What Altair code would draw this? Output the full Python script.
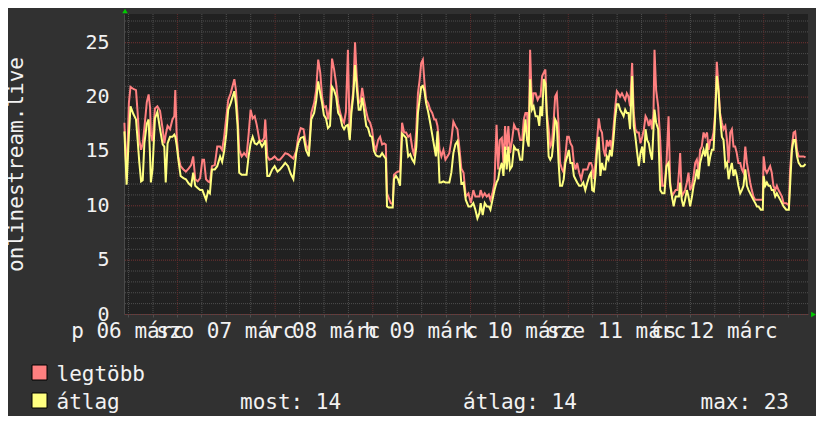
import altair as alt
import pandas as pd

# hours since the start of the graph (06 márc ~11:00)
hours = [
    0.1, 0.65, 1.2, 1.6, 2.3, 2.95, 3.35, 3.75, 4.2, 4.6,
    5.0, 5.6, 6.05, 6.4, 6.6, 7.0, 7.6, 8.2, 8.85, 9.5,
    9.9, 10.25, 10.7, 11.3, 11.9, 12.35, 12.6, 12.95, 13.35, 13.9,
    14.6, 15.2, 15.9, 16.5, 17.0, 17.5, 18.1, 18.7, 19.25, 19.65,
    20.15, 20.65, 21.1, 21.6, 22.3, 22.9, 23.6, 24.1, 24.6, 25.1,
    25.6, 26.2, 27.1, 27.5, 27.9, 28.3, 28.9, 29.5, 30.1, 30.6,
    31.1, 31.6, 32.1, 32.6, 33.25, 33.9, 34.4, 34.7, 35.2, 35.7,
    36.4, 37.0, 37.7, 38.3, 39.0, 39.6, 40.3, 40.95, 41.6, 42.3,
    42.8, 43.4, 44.1, 44.7, 45.4, 46.0, 46.7, 47.2, 47.7, 48.2,
    48.65, 49.1, 49.6, 50.1, 50.6, 51.1, 51.6, 52.1, 52.6, 53.1,
    53.6, 54.05, 54.5, 55.0, 55.45, 55.85, 56.3, 56.75, 57.15, 57.65,
    58.1, 58.5, 58.95, 59.5, 59.95, 60.45, 60.9, 61.4, 61.9, 62.4,
    62.9, 63.4, 63.9, 64.3, 64.6, 65.0, 65.5, 66.0, 66.3, 66.8,
    67.3, 67.8, 68.3, 68.8, 69.3, 69.8, 70.3, 70.8, 71.3, 71.8,
    72.2, 72.6, 73.0, 73.4, 73.8, 74.2, 74.7, 75.2, 75.7, 76.2,
    76.6, 77.0, 77.5, 77.95, 78.45, 78.95, 79.45, 79.9, 80.4, 80.9,
    81.4, 81.9, 82.35, 82.85, 83.4, 83.95, 84.6, 85.2, 85.8, 86.3,
    86.8, 87.3, 87.6, 88.1, 88.6, 89.1, 89.6, 90.0, 90.5, 91.0,
    91.5, 91.9, 92.3, 92.8, 93.2, 93.6, 94.0, 94.4, 94.8, 95.3,
    95.8, 96.3, 96.8, 97.3, 97.8, 98.2, 98.6, 99.0, 99.4, 99.75,
    100.2, 100.6, 101.1, 101.6, 102.0, 102.3, 102.7, 103.1, 103.5, 103.85,
    104.3, 104.7, 105.1, 105.5, 105.9, 106.3, 106.7, 107.1, 107.6, 108.0,
    108.4, 108.85, 109.25, 109.65, 110.1, 110.5, 110.9, 111.3, 111.8, 112.3,
    112.8, 113.3, 113.8, 114.3, 114.7, 115.0, 115.4, 115.8, 116.2, 116.6,
    117.0, 117.4, 117.8, 118.2, 118.6, 119.0, 119.4, 119.8, 120.2, 120.6,
    121.05, 121.45, 121.85, 122.3, 122.7, 123.1, 123.5, 123.9, 124.3, 124.8,
    125.2, 125.6, 126.05, 126.45, 126.85, 127.3, 127.7, 128.1, 128.5, 128.9,
    129.3, 129.7, 130.05, 130.3, 130.7, 131.2, 131.7, 132.2, 132.75, 133.25,
    133.75, 134.15, 134.6, 135.0, 135.5, 135.95, 136.3, 136.6, 137.0, 137.4,
    137.8, 138.25, 138.65, 139.05, 139.5, 139.9, 140.3, 140.7, 141.1, 141.5,
    141.9, 142.35, 142.75, 143.2, 143.6, 144.0, 144.4, 144.8, 145.2, 145.6,
    146.0, 146.4, 146.85, 147.25, 147.7, 148.1, 148.5, 148.9, 149.3, 149.7,
    150.1, 150.5, 150.9, 151.35, 151.75, 152.15, 152.6, 153.0, 153.4, 153.8,
    154.2, 154.6, 155.05, 155.45, 155.85, 156.4, 156.9, 157.1, 157.5, 157.9,
    158.3, 158.7, 159.1, 159.5, 159.95, 160.35, 160.75, 161.2, 161.6, 162.0,
    162.65, 163.3, 163.6, 164.05, 164.45, 164.85, 165.3, 165.7, 166.25, 166.9,
    167.4,
]

legtobb = [
    17.6, 12.4, 19.4, 20.9, 20.7, 20.6, 18.5, 16.0, 15.1, 15.7,
    17.1, 19.5, 20.2, 19.0, 16.5, 15.9, 18.9, 19.1, 18.7, 17.0,
    15.7, 16.5, 17.3, 17.0, 17.9, 18.2, 20.6, 16.3, 14.5, 13.6,
    13.3, 13.1, 13.4, 13.7, 14.5, 12.4, 12.2, 12.5, 14.2, 14.2,
    12.4, 12.2, 12.1, 13.6, 13.7, 15.4, 15.4, 15.1, 16.3, 18.0,
    19.7, 20.3, 21.6, 20.6, 18.2, 15.1, 14.5, 14.8, 14.5, 16.5,
    18.8, 18.0, 18.2, 17.4, 16.0, 15.9, 16.2, 17.9, 14.5, 14.2,
    14.3, 14.5, 14.2, 14.2, 14.5, 14.8, 14.7, 14.5, 14.3, 15.0,
    16.3, 17.1, 17.0, 15.6, 15.0, 18.5, 19.4, 20.6, 23.4, 22.2,
    20.0, 19.0, 19.1, 17.9, 19.0, 23.5, 22.5, 21.2, 19.4, 18.5,
    17.9, 17.6, 18.6, 24.3, 16.2, 19.0, 20.5, 25.0, 21.9, 19.4,
    19.6, 20.8, 19.7, 18.6, 17.9, 17.6, 17.0, 15.6, 15.1, 16.0,
    16.3, 15.6, 15.7, 15.6, 11.1, 10.7, 10.2, 10.1, 12.8, 13.0,
    13.1, 13.1, 17.6, 16.7, 16.7, 16.3, 16.5, 15.3, 14.5, 17.0,
    20.3, 21.5, 23.1, 23.4, 21.3, 19.7, 19.4, 18.8, 18.5, 17.9,
    17.9, 17.3, 15.1, 14.5, 15.1, 14.2, 14.5, 14.8, 16.0, 17.7,
    17.3, 17.0, 15.4, 13.4, 13.0, 10.8, 11.1, 10.2, 11.4, 10.8,
    10.8, 10.8, 11.4, 10.8, 11.1, 10.8, 11.0, 10.5, 11.1, 12.1,
    17.4, 13.3, 16.0, 16.2, 13.9, 17.3, 15.1, 17.3, 14.8, 16.0,
    17.4, 17.0, 17.0, 16.0, 16.0, 17.9, 18.5, 18.5, 16.0, 24.3,
    19.1, 20.3, 20.3, 19.7, 20.0, 20.0, 21.9, 22.2, 22.5, 18.5,
    17.0, 15.4, 15.7, 17.6, 20.0, 20.3, 17.6, 13.9, 13.3, 13.0,
    14.5, 16.3, 16.3, 15.7, 15.4, 13.9, 13.3, 13.9, 13.0, 12.4,
    13.3, 13.3, 13.3, 13.9, 13.9, 13.6, 12.4, 13.9, 16.0, 18.0,
    17.0, 16.7, 15.1, 14.5, 16.0, 15.4, 16.0, 15.1, 17.0, 18.8,
    20.5, 20.3, 20.0, 20.3, 20.0, 19.7, 20.3, 20.0, 19.1, 23.1,
    18.5, 17.0, 16.7, 16.7, 15.7, 16.3, 17.0, 18.2, 17.9, 17.3,
    17.9, 17.0, 18.5, 24.3, 20.6, 19.1, 16.0, 11.8, 11.8, 13.9,
    18.2, 12.1, 10.8, 11.1, 11.4, 11.4, 13.0, 14.8, 10.8, 11.1,
    11.4, 12.1, 13.0, 11.4, 11.8, 12.7, 13.9, 14.2, 13.0, 15.1,
    15.4, 16.7, 16.3, 16.7, 15.1, 16.0, 16.0, 16.7, 18.5, 23.2,
    20.9, 18.5, 17.6, 17.0, 17.3, 16.0, 13.9, 16.7, 17.0, 15.4,
    15.4, 14.8, 13.9, 13.9, 13.3, 13.0, 15.4, 13.9, 13.0, 12.1,
    11.4, 10.8, 10.5, 10.5, 10.5, 10.5, 10.5, 14.5, 13.3, 13.0,
    13.3, 13.6, 13.0, 11.8, 11.4, 11.8, 11.4, 11.1, 10.8, 10.2,
    10.2, 10.0, 13.3, 15.4, 16.7, 16.8, 15.1, 14.5, 14.5, 14.5,
    14.4,
]

atlag = [
    16.8, 11.9, 16.5, 19.1, 18.4, 17.9, 16.0, 14.0, 12.2, 12.3,
    15.7, 17.5, 17.9, 14.5, 12.1, 13.3, 18.0, 18.6, 17.0, 15.6,
    15.4, 12.1, 15.7, 16.3, 16.3, 16.5, 16.3, 15.5, 14.2, 12.7,
    12.5, 12.4, 12.0, 11.8, 13.0, 11.8, 11.6, 11.4, 11.4, 11.0,
    10.5, 11.3, 11.1, 13.3, 13.3, 13.6, 14.5, 14.0, 15.0, 16.5,
    18.8, 19.4, 20.5, 19.3, 17.3, 13.0, 12.8, 12.8, 12.8, 14.5,
    15.7, 16.3, 15.7, 15.6, 15.9, 15.4, 15.7, 16.0, 12.7, 12.7,
    13.3, 13.6, 13.1, 13.3, 13.6, 13.9, 13.6, 12.9, 12.4, 14.8,
    15.7, 16.2, 16.3, 15.1, 14.5, 17.9, 18.5, 19.6, 21.4, 20.3,
    19.4, 18.3, 18.0, 17.1, 17.3, 20.9, 20.6, 20.0, 18.5, 18.2,
    17.3, 17.0, 17.3, 17.4, 16.0, 18.5, 20.0, 22.9, 20.9, 18.8,
    18.8, 19.9, 18.8, 17.3, 17.1, 16.4, 16.3, 15.0, 14.6, 14.5,
    14.5, 14.8, 14.5, 14.3, 9.9, 9.8, 9.8, 9.8, 12.4, 12.7,
    12.4, 11.8, 16.6, 16.4, 16.2, 14.5, 14.7, 14.2, 13.9, 15.4,
    18.5, 19.7, 20.9, 21.0, 20.5, 19.4, 18.6, 17.6, 16.5, 15.4,
    14.5, 16.8, 12.1, 12.1, 12.2, 12.1, 12.1, 12.1, 13.0, 14.8,
    15.6, 15.9, 14.5, 12.0, 12.1, 10.5, 9.9, 9.9, 10.2, 9.6,
    8.8, 9.3, 10.2, 9.1, 10.2, 9.9, 9.9, 9.6, 10.5, 11.4,
    12.1, 12.4, 13.3, 13.9, 12.7, 15.4, 13.3, 15.4, 13.3, 13.6,
    15.4, 15.1, 15.1, 14.2, 14.2, 16.3, 17.9, 16.0, 15.4, 21.6,
    18.8, 19.1, 18.2, 18.2, 17.3, 19.1, 18.2, 21.6, 21.2, 18.2,
    14.5, 14.2, 14.5, 16.0, 17.9, 17.6, 14.2, 11.8, 11.8, 12.4,
    13.9, 14.5, 15.1, 13.9, 13.9, 12.7, 12.4, 12.1, 11.8, 11.8,
    12.1, 11.4, 12.1, 12.7, 13.0, 11.4, 11.3, 12.8, 15.1, 16.3,
    12.7, 13.9, 13.3, 13.3, 14.5, 14.2, 15.1, 14.5, 16.0, 17.9,
    19.3, 19.3, 18.8, 18.5, 18.2, 18.8, 18.5, 18.5, 17.0, 21.9,
    17.3, 16.3, 14.8, 13.6, 14.8, 15.4, 13.9, 17.0, 16.0, 15.7,
    14.8, 14.2, 17.0, 18.8, 17.6, 17.0, 11.4, 11.1, 11.1, 13.6,
    13.9, 11.8, 10.8, 9.9, 10.8, 10.8, 10.8, 12.1, 10.5, 9.9,
    10.5, 11.4, 10.8, 9.9, 10.8, 11.8, 12.4, 13.3, 12.4, 13.9,
    14.5, 15.1, 14.5, 15.7, 13.6, 14.5, 15.1, 15.1, 18.2, 21.9,
    20.6, 18.2, 16.3, 16.0, 13.6, 13.9, 12.4, 13.3, 13.9, 12.7,
    13.3, 12.7, 11.8, 11.1, 11.4, 11.8, 13.3, 11.8, 11.4, 11.1,
    10.8, 10.5, 10.2, 9.9, 9.9, 9.6, 9.6, 12.7, 11.8, 12.1,
    11.8, 11.8, 11.4, 11.4, 10.8, 11.1, 10.8, 10.5, 10.2, 9.9,
    9.6, 9.6, 11.8, 15.1, 16.0, 16.0, 14.5, 13.9, 13.6, 13.6,
    13.8,
]

# day labels (centred at noon of each day), hours since start
day_label_hours = [1, 25, 49, 73, 97, 121, 145]
day_labels = ["p 06 márc", "szo 07 márc", "v 08 márc", "h 09 márc",
              "k 10 márc", "sze 11 márc", "cs 12 márc"]

# grid: midnights (major) and every 6 hours (minor); y every unit, major every 5
midnight_hours = [13, 37, 61, 85, 109, 133, 157]
six_hour_ticks = [h for h in range(1, 168, 6) if h not in midnight_hours]
y_major_vals = [0, 5, 10, 15, 20, 25]
y_minor_vals = [v for v in range(0, 28) if v % 5 != 0]

y_title = "onlinestream.live"
series_names = ["legtöbb", "átlag"]
series_colors = ["#ff8080", "#ffff80"]
stats = ["most: 14", "átlag: 14", "max: 23"]

FONT = "DejaVu Sans Mono"
TXT = "#f2f2f2"
BG = "#313131"
PLOT_BG = "#212121"
MAJOR = "#763333"
MAJOR_V = "#5e2c2c"
MINOR = "#4e4e4e"
ARROW = "#00cc00"

df = pd.DataFrame({"h": hours, "max": legtobb, "avg": atlag})
days_df = pd.DataFrame({"h": day_label_hours, "label": day_labels})

xscale = alt.Scale(domain=[0, 168], nice=False, zero=False)
yscale = alt.Scale(domain=[0, 27.6], nice=False, zero=True)

x_axis = alt.Axis(
    values=list(range(1, 168, 6)), labels=False, title=None, grid=False,
    ticks=True, tickSize=3, tickColor=MINOR,
    domain=True, domainColor="#4a4a4a",
)
y_axis = alt.Axis(
    values=y_major_vals, labelOverlap=False, labelFlush=False, labelBound=False,
    labelFont=FONT, labelFontSize=20, labelColor=TXT, labelPadding=15,
    ticks=False, title=None, grid=False,
    domain=True, domainColor="#4a4a4a",
)


def xenc(field):
    return alt.X(field, scale=xscale, axis=x_axis)


def yenc(field):
    return alt.Y(field, scale=yscale, axis=y_axis)


grid_y_minor = alt.Chart(pd.DataFrame({"v": y_minor_vals})).mark_rule(
    color=MINOR, strokeDash=[1, 1], strokeWidth=1, yOffset=0.5
).encode(y=yenc("v:Q"))
grid_x_minor = alt.Chart(pd.DataFrame({"h": six_hour_ticks})).mark_rule(
    color=MINOR, strokeDash=[1, 1], strokeWidth=1, xOffset=0.5
).encode(x=xenc("h:Q"))
grid_y_major = alt.Chart(pd.DataFrame({"v": y_major_vals})).mark_rule(
    color=MAJOR, strokeDash=[1, 1], strokeWidth=1, yOffset=0.5
).encode(y=yenc("v:Q"))
grid_x_major = alt.Chart(pd.DataFrame({"h": midnight_hours})).mark_rule(
    color=MAJOR_V, strokeDash=[1, 1], strokeWidth=1, xOffset=0.5
).encode(x=xenc("h:Q"))

line_max = alt.Chart(df).mark_line(color=series_colors[0], strokeWidth=2).encode(
    x=xenc("h:Q"), y=yenc("max:Q"),
)
line_avg = alt.Chart(df).mark_line(color=series_colors[1], strokeWidth=2).encode(
    x=xenc("h:Q"), y=yenc("avg:Q"),
)

day_text = alt.Chart(days_df).mark_text(
    font=FONT, fontSize=21, color=TXT, align="center", baseline="alphabetic"
).encode(x=xenc("h:Q"), y=alt.value(324), text="label:N")

title_text = alt.Chart(pd.DataFrame({"t": [y_title]})).mark_text(
    font=FONT, fontSize=21, color=TXT, angle=270, align="center", baseline="alphabetic"
).encode(x=alt.value(-101.5), y=alt.value(150.5), text="t:N")

layers = [grid_y_minor, grid_x_minor, grid_y_major, grid_x_major,
          line_max, line_avg, day_text, title_text]

row_top = [351, 379]
row_base = [366.5, 394.5]
for i, name in enumerate(series_names):
    sw = alt.Chart(pd.DataFrame({"n": [name]})).mark_rect(
        color=series_colors[i], stroke="#000000", strokeWidth=1
    ).encode(
        x=alt.value(-92), x2=alt.value(-77),
        y=alt.value(row_top[i]), y2=alt.value(row_top[i] + 15),
    )
    tx = alt.Chart(pd.DataFrame({"n": [name]})).mark_text(
        font=FONT, fontSize=21, color=TXT, align="left", baseline="alphabetic"
    ).encode(x=alt.value(-67.5), y=alt.value(row_base[i]), text="n:N")
    layers += [sw, tx]

stat_x = [116, 339, 576.5]
for sx, s in zip(stat_x, stats):
    layers.append(
        alt.Chart(pd.DataFrame({"n": [s]})).mark_text(
            font=FONT, fontSize=21, color=TXT, align="left", baseline="alphabetic"
        ).encode(x=alt.value(sx), y=alt.value(row_base[1]), text="n:N")
    )

arrow_up = alt.Chart(pd.DataFrame({"a": [0]})).mark_point(
    shape="triangle-up", filled=True, color=ARROW, size=30, opacity=1
).encode(x=alt.value(1), y=alt.value(-3))
arrow_right = alt.Chart(pd.DataFrame({"a": [0]})).mark_point(
    shape="triangle-right", filled=True, color=ARROW, size=30, opacity=1
).encode(x=alt.value(689.5), y=alt.value(300.5))
layers += [arrow_up, arrow_right]

chart = alt.layer(*layers).properties(
    width=684, height=300,
    autosize=alt.AutoSizeParams(type="none"),
    padding={"left": 116, "top": 6, "right": 8, "bottom": 102},
).configure(background=BG).configure_view(fill=PLOT_BG, stroke=None)

chart.save("out.html", embed_options={"renderer": "svg", "actions": False})
